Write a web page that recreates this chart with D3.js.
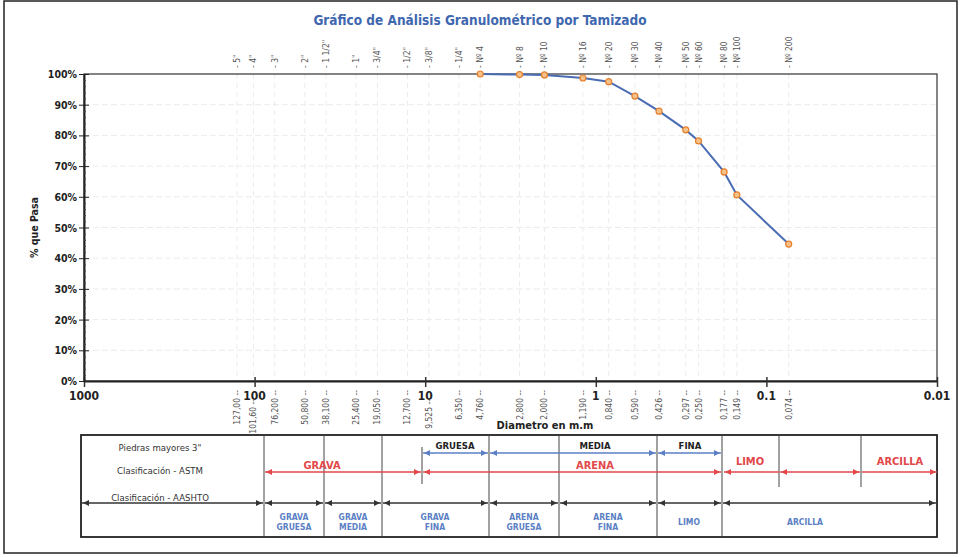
<!DOCTYPE html>
<html>
<head>
<meta charset="utf-8">
<script src="https://cdn.jsdelivr.net/npm/d3@7"></script>
<style>
  body { margin: 0; background: #fff; }
  svg { font-family: "Liberation Sans Narrow", "DejaVu Sans Condensed", "Arial Narrow", sans-serif; }
</style>
</head>
<body>
<svg id="chart" width="961" height="557"></svg>
<script>
// sieve names, openings (mm) and label text under the axis
const sieveNames = ["5\"", "4\"", "3\"", "2\"", "1 1/2\"", "1\"", "3/4\"", "1/2\"", "3/8\"", "1/4\"",
  "Nº 4", "Nº 8", "Nº 10", "Nº 16", "Nº 20", "Nº 30", "Nº 40", "Nº 50", "Nº 60", "Nº 80", "Nº 100", "Nº 200"];
const sieveSizes = [127, 101.6, 76.2, 50.8, 38.1, 25.4, 19.05, 12.7, 9.525, 6.35,
  4.76, 2.8, 2.0, 1.19, 0.84, 0.59, 0.426, 0.297, 0.25, 0.177, 0.149, 0.074];
const sizeLabels = ["127,00", "101,60", "76,200", "50,800", "38,100", "25,400", "19,050", "12,700", "9,525", "6,350",
  "4,760", "2,800", "2,000", "1,190", "0,840", "0,590", "0,426", "0,297", "0,250", "0,177", "0,149", "0,074"];
const loweredLabels = ["101,60", "9,525"];

// measured curve
const testSizes = [4.76, 2.8, 2.0, 1.19, 0.84, 0.59, 0.426, 0.297, 0.25, 0.177, 0.149, 0.074];
const percentPassing = [100, 99.8, 99.7, 98.7, 97.5, 92.8, 87.9, 81.8, 78.2, 68.1, 60.6, 44.6];

const decadeTicks = [1000, 100, 10, 1, 0.1, 0.01];
const decadeLabels = ["1000", "100", "10", "1", "0.1", "0.01"];
const yTicks = [0, 10, 20, 30, 40, 50, 60, 70, 80, 90, 100];

const svg = d3.select("#chart");
const width = 961, height = 557;
const margin = { top: 74, right: 24, bottom: 176, left: 84 };

const x = d3.scaleLog().domain([1000, 0.01]).range([margin.left, width - margin.right]);
const y = d3.scaleLinear().domain([0, 100]).range([height - margin.bottom, margin.top]);

// page frame
svg.append("rect")
  .attr("x", 4).attr("y", 1).attr("width", 953).attr("height", 552)
  .attr("fill", "none").attr("stroke", "#222").attr("stroke-width", 1.5);

svg.append("text")
  .attr("x", 480).attr("y", 25)
  .attr("text-anchor", "middle")
  .attr("font-size", 13.5).attr("font-weight", "bold")
  .attr("fill", "#3f67b0")
  .text("Gráfico de Análisis Granulométrico por Tamizado");

// grid
const grid = svg.append("g");
grid.selectAll("line.h")
  .data(yTicks.slice(1, -1))
  .join("line")
  .attr("x1", x(1000)).attr("x2", x(0.01))
  .attr("y1", d => y(d)).attr("y2", d => y(d))
  .attr("stroke", "#ececec").attr("stroke-dasharray", "6,3");
grid.selectAll("line.v")
  .data(sieveSizes)
  .join("line")
  .attr("x1", d => x(d)).attr("x2", d => x(d))
  .attr("y1", y(100)).attr("y2", y(0))
  .attr("stroke", "#ececec").attr("stroke-dasharray", "5,4");

// frame of plot
svg.append("rect")
  .attr("x", x(1000)).attr("y", y(100))
  .attr("width", x(0.01) - x(1000)).attr("height", y(0) - y(100))
  .attr("fill", "none").attr("stroke", "#333").attr("stroke-width", 1.2);

// x axis with minor log ticks
const xAxis = svg.append("g")
  .attr("transform", `translate(0,${y(0)})`)
  .call(d3.axisTop(x).ticks(5).tickFormat("").tickSize(4).tickSizeOuter(0));
xAxis.select(".domain").attr("stroke", "#222").attr("stroke-width", 2);
xAxis.selectAll(".tick line").attr("stroke", "#333");
xAxis.selectAll(".tick")
  .filter(d => decadeTicks.includes(d))
  .select("line").attr("y1", -4).attr("y2", 6).attr("stroke-width", 1.5);

svg.append("g").selectAll("text")
  .data(decadeTicks)
  .join("text")
  .attr("x", d => x(d)).attr("y", y(0) + 19)
  .attr("text-anchor", "middle")
  .attr("font-size", 12).attr("font-weight", "bold").attr("fill", "#222")
  .text((d, i) => decadeLabels[i]);

// y axis
const yAxis = svg.append("g")
  .attr("transform", `translate(${x(1000)},0)`)
  .call(d3.axisLeft(y).tickValues(d3.range(0, 101, 2)).tickFormat("").tickSize(3).tickSizeOuter(0));
yAxis.select(".domain").attr("stroke", "#222").attr("stroke-width", 2);
yAxis.selectAll(".tick line").attr("x2", 2).attr("stroke", "#444");
yAxis.selectAll(".tick").filter(d => d % 10 === 0)
  .select("line").attr("x1", -5).attr("x2", 5).attr("stroke", "#222");

svg.append("g").selectAll("text")
  .data(yTicks)
  .join("text")
  .attr("x", x(1000) - 7).attr("y", d => y(d) + 4)
  .attr("text-anchor", "end")
  .attr("font-size", 10.5).attr("font-weight", "bold").attr("fill", "#222")
  .text(d => d + "%");

svg.append("text")
  .attr("transform", `translate(38,${(y(0) + y(100)) / 2}) rotate(-90)`)
  .attr("text-anchor", "middle")
  .attr("font-size", 10.5).attr("font-weight", "bold").attr("fill", "#222")
  .text("% que Pasa");

svg.append("text")
  .attr("x", 545).attr("y", 429)
  .attr("text-anchor", "middle")
  .attr("font-size", 11).attr("font-weight", "bold").attr("fill", "#222")
  .text("Diametro en m.m");

// sieve names on top
svg.append("g").selectAll("text")
  .data(sieveSizes)
  .join("text")
  .attr("transform", d => `translate(${x(d) + 3},68) rotate(-90)`)
  .attr("font-size", 8.5).attr("fill", "#555")
  .text((d, i) => "- " + sieveNames[i]);

// sieve openings under axis
svg.append("g").selectAll("text")
  .data(sieveSizes)
  .join("text")
  .attr("transform", (d, i) => `translate(${x(d) + 3},${loweredLabels.includes(sizeLabels[i]) ? 399 : 390}) rotate(-90)`)
  .attr("text-anchor", "end")
  .attr("font-size", 8.5).attr("fill", "#555")
  .text((d, i) => sizeLabels[i] + " --");

// curve
const pts = testSizes.map((d, i) => ({ d: d, p: percentPassing[i] }));
svg.append("path")
  .datum(pts)
  .attr("fill", "none")
  .attr("stroke", "#4a6cb3").attr("stroke-width", 2)
  .attr("d", d3.line().x(v => x(v.d)).y(v => y(v.p)));
svg.append("g").selectAll("circle")
  .data(pts)
  .join("circle")
  .attr("cx", v => x(v.d)).attr("cy", v => y(v.p)).attr("r", 3)
  .attr("fill", "#f6c189").attr("stroke", "#e5802d").attr("stroke-width", 1.2);

// classification table
const table = svg.append("g");
table.append("rect")
  .attr("x", 81).attr("y", 435).attr("width", 856).attr("height", 102)
  .attr("fill", "none").attr("stroke", "#222").attr("stroke-width", 1.8);

const fullCols = [264, 324, 382, 489, 559, 657, 722];
const shortCols = [[422, 447, 484], [779, 435, 487], [861, 435, 487]];
table.selectAll("line.full").data(fullCols).join("line")
  .attr("x1", d => d).attr("x2", d => d).attr("y1", 435).attr("y2", 537)
  .attr("stroke", "#444");
table.selectAll("line.short").data(shortCols).join("line")
  .attr("x1", d => d[0]).attr("x2", d => d[0]).attr("y1", d => d[1]).attr("y2", d => d[2])
  .attr("stroke", "#444");

function arrowHead(g, px, py, dir, color) {
  g.append("path")
    .attr("d", `M${px},${py} l${-dir * 6},-3 l0,6 z`)
    .attr("fill", color);
}
function arrowSeg(x1, x2, yy, color, left, right) {
  table.append("line")
    .attr("x1", x1).attr("x2", x2).attr("y1", yy).attr("y2", yy)
    .attr("stroke", color).attr("stroke-width", 1.3);
  if (left) arrowHead(table, x1 + 1, yy, -1, color);
  if (right) arrowHead(table, x2 - 1, yy, 1, color);
}

const rowLabels = [["Piedras mayores 3\"", 451], ["Clasificación - ASTM", 474], ["Clasificación - AASHTO", 501]];
table.selectAll("text.row").data(rowLabels).join("text")
  .attr("x", 160).attr("y", d => d[1])
  .attr("text-anchor", "middle").attr("font-size", 9.5).attr("fill", "#333")
  .text(d => d[0]);

// blue sand sub-classes
const blue = "#5b7fc4";
arrowSeg(423, 488, 453, blue, true, true);
arrowSeg(490, 656, 453, blue, true, true);
arrowSeg(658, 721, 453, blue, true, true);
[["GRUESA", 455], ["MEDIA", 595], ["FINA", 690]].forEach(t => {
  table.append("text").attr("x", t[1]).attr("y", 449)
    .attr("text-anchor", "middle").attr("font-size", 9.5).attr("font-weight", "bold").attr("fill", "#222")
    .text(t[0]);
});

// red ASTM
const red = "#e2474a";
arrowSeg(265, 421, 472, red, true, true);
arrowSeg(423, 721, 472, red, true, true);
arrowSeg(724, 779, 472, red, true, false);
arrowSeg(780, 860, 472, red, true, true);
arrowSeg(862, 937, 472, red, false, true);
[["GRAVA", 322, 469], ["ARENA", 595, 469], ["LIMO", 750, 465], ["ARCILLA", 900, 465]].forEach(t => {
  table.append("text").attr("x", t[1]).attr("y", t[2])
    .attr("text-anchor", "middle").attr("font-size", 11).attr("font-weight", "bold").attr("fill", red)
    .text(t[0]);
});

// black AASHTO
const dark = "#333";
[[82, 263], [265, 323], [325, 381], [383, 488], [490, 558], [560, 656], [658, 721], [723, 936]].forEach(s => {
  arrowSeg(s[0], s[1], 503, dark, true, true);
});
const aashto = [[["GRAVA", "GRUESA"], 294], [["GRAVA", "MEDIA"], 353], [["GRAVA", "FINA"], 435],
  [["ARENA", "GRUESA"], 524], [["ARENA", "FINA"], 608], [["LIMO"], 689], [["ARCILLA"], 805]];
aashto.forEach(a => {
  const t = table.append("text").attr("x", a[1]).attr("y", a[0].length === 1 ? 525 : 520)
    .attr("text-anchor", "middle").attr("font-size", 8.5).attr("font-weight", "bold").attr("fill", blue);
  a[0].forEach((w, i) => t.append("tspan").attr("x", a[1]).attr("dy", i ? 10 : 0).text(w));
});
</script>
</body>
</html>
